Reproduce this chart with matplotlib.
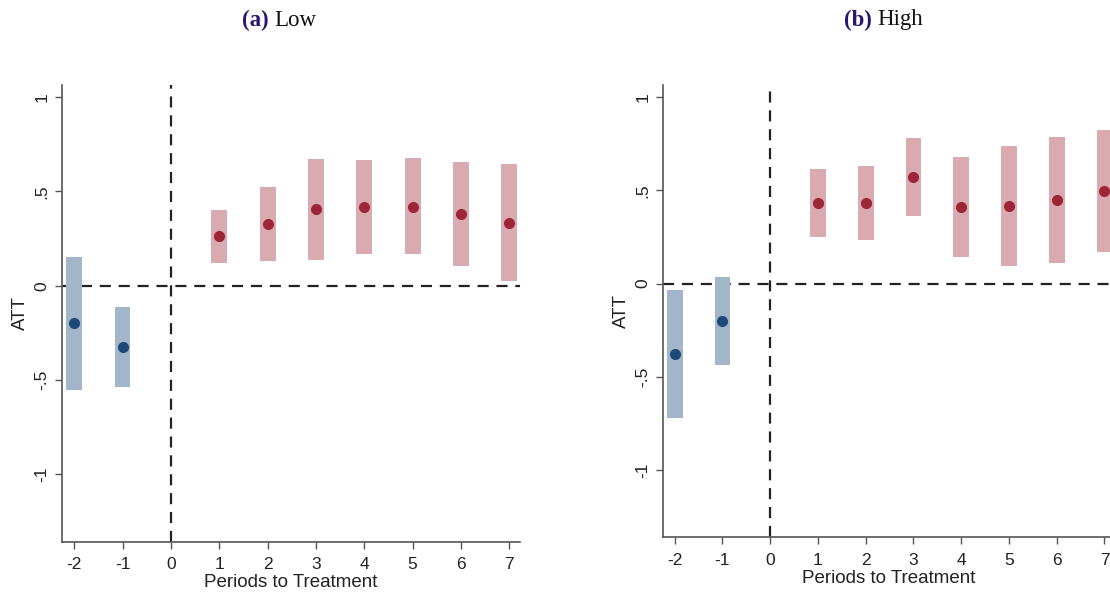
import matplotlib
matplotlib.use("Agg")
import matplotlib.pyplot as plt
import numpy as np

periods = [-2, -1, 1, 2, 3, 4, 5, 6, 7]
xticks = [-2, -1, 0, 1, 2, 3, 4, 5, 6, 7]

low_att = [-0.20, -0.324, 0.264, 0.328, 0.406, 0.417, 0.420, 0.381, 0.335]
low_lo = [-0.555, -0.54, 0.122, 0.131, 0.137, 0.170, 0.167, 0.105, 0.027]
low_hi = [0.154, -0.115, 0.400, 0.523, 0.674, 0.665, 0.676, 0.658, 0.646]

high_att = [-0.378, -0.20, 0.430, 0.430, 0.571, 0.412, 0.416, 0.447, 0.497]
high_lo = [-0.723, -0.437, 0.250, 0.236, 0.363, 0.145, 0.095, 0.111, 0.170]
high_hi = [-0.034, 0.037, 0.613, 0.629, 0.780, 0.679, 0.739, 0.787, 0.825]

ytick_vals = [-1, -0.5, 0, 0.5, 1]
ytick_labels = ["-1", "-.5", "0", ".5", "1"]

BLUE_BAR = "#a3b5c9"
BLUE_DOT = "#1d4a78"
RED_BAR = "#d9abb0"
RED_DOT = "#9c2637"
AX_COL = "#555555"

fig = plt.figure(figsize=(11.10, 5.97), dpi=100)
ax1 = fig.add_axes([0.0559, 0.0921, 0.4126, 0.7655])
ax2 = fig.add_axes([0.5971, 0.1000, 0.4074, 0.7576])


def draw(ax, att, lo, hi):
    x = np.array(periods)
    att = np.array(att); lo = np.array(lo); hi = np.array(hi)
    pre = x < 0
    ax.axhline(0, color="#222222", lw=1.6, ls=(0, (5, 3.5)), zorder=1)
    ax.axvline(0, color="#222222", lw=1.6, ls=(0, (5, 3.5)), zorder=1)
    ax.bar(x[pre], hi[pre] - lo[pre], bottom=lo[pre], width=0.33,
           color=BLUE_BAR, zorder=2)
    ax.bar(x[~pre], hi[~pre] - lo[~pre], bottom=lo[~pre], width=0.33,
           color=RED_BAR, zorder=2)
    ax.plot(x[pre], att[pre], "o", color=BLUE_DOT, ms=7, zorder=3)
    ax.plot(x[~pre], att[~pre], "o", color=RED_DOT, ms=7, zorder=3)
    ax.set_xlim(-2.25, 7.22)
    ax.set_ylim(-1.36, 1.065)
    ax.set_xticks(xticks)
    ax.set_xticklabels([str(t) for t in xticks], fontsize=12.5,
                       family="Liberation Sans", color="#222222")
    ax.set_yticks(ytick_vals)
    ax.set_yticklabels(ytick_labels, fontsize=12.5, rotation=90, va="center",
                       family="Liberation Sans", color="#222222")
    for s in ["top", "right"]:
        ax.spines[s].set_visible(False)
    for s in ["left", "bottom"]:
        ax.spines[s].set_color(AX_COL)
        ax.spines[s].set_linewidth(1.2)
    ax.tick_params(colors=AX_COL, length=5, width=1.0, labelcolor="#222222")
    ax.tick_params(axis="x", pad=6)
    ax.tick_params(axis="y", pad=4)
    ax.set_xlabel("Periods to Treatment", fontsize=13.5, family="Liberation Sans",
                  color="#222222", labelpad=1.5)
    ax.set_ylabel("ATT", fontsize=13.5, family="Liberation Sans", color="#222222",
                  labelpad=4)


draw(ax1, low_att, low_lo, low_hi)
draw(ax2, high_att, high_lo, high_hi)

TITLE_COL = "#2a1670"
for cx, lab, name in [(277, "(a)", "Low"), (880, "(b)", "High")]:
    fig.text(cx / 1110 - 0.002, 1 - 20 / 597, lab + " ", ha="right", va="center",
             fontsize=16.5, fontweight="bold", color=TITLE_COL,
             family="Liberation Serif")
    fig.text(cx / 1110 - 0.002, 1 - 20 / 597, name, ha="left", va="center",
             fontsize=16.5, color="#111111", family="Liberation Serif")

fig.savefig("out.png", dpi=100)
